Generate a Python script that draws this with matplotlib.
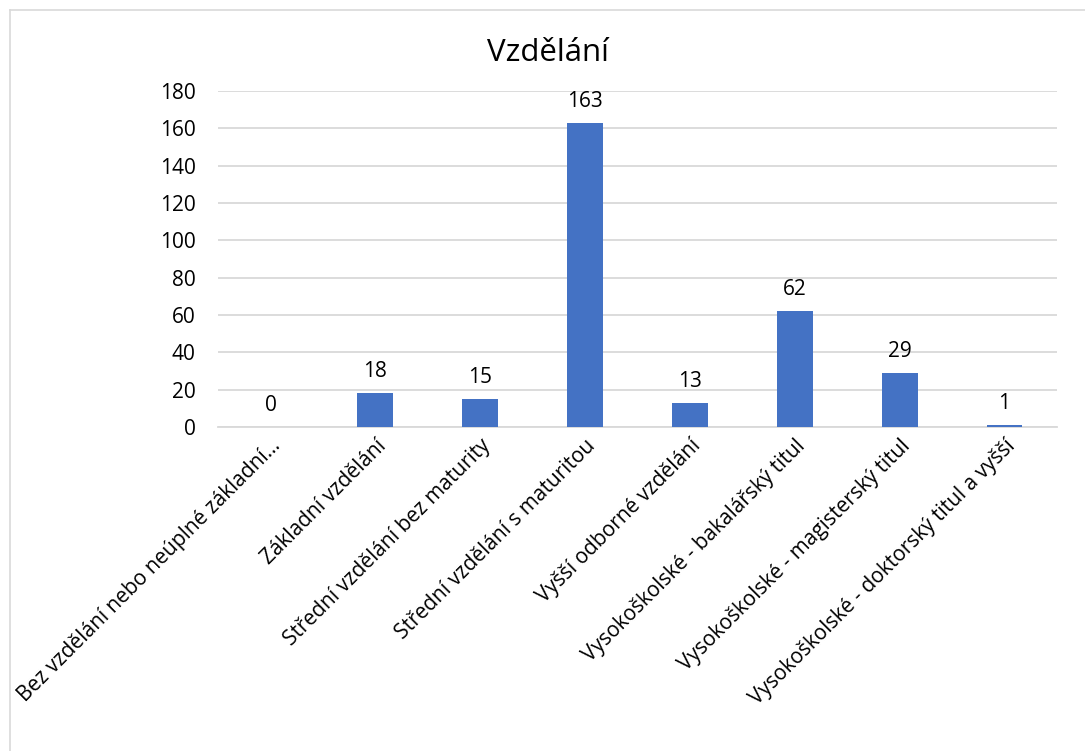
import matplotlib.pyplot as plt
from matplotlib.lines import Line2D

categories = [
    'Bez vzdělání nebo neúplné základní...',
    'Základní vzdělání',
    'Střední vzdělání bez maturity',
    'Střední vzdělání s maturitou',
    'Vyšší odborné vzdělání',
    'Vysokoškolské - bakalářský titul',
    'Vysokoškolské - magisterský titul',
    'Vysokoškolské - doktorský titul a vyšší',
]
counts = [0, 18, 15, 163, 13, 62, 29, 1]
y_ticks = list(range(0, 181, 20))

plt.rcParams['font.family'] = ['Open Sans', 'DejaVu Sans']

fig = plt.figure(figsize=(10.85, 7.51), dpi=100)
ax = fig.add_axes([218 / 1085, 1 - 427 / 751, (1057 - 218) / 1085, (427 - 91) / 751])

x = range(len(categories))
bars = ax.bar(x, counts, width=0.34, color='#4472C4', zorder=3)

for xi, v in zip(x, counts):
    ax.annotate(str(v), (xi, v), xytext=(0, 8), textcoords='offset points',
                ha='center', va='bottom', fontsize=15, color='#000000')

ax.set_xlim(-0.5, len(categories) - 0.5)
ax.set_ylim(0, 180)
ax.set_yticks(y_ticks)
ax.tick_params(axis='y', length=0, labelsize=15, pad=16)
ax.tick_params(axis='x', length=0, labelsize=15, pad=6)
ax.set_xticks(list(x))
ax.set_xticklabels(categories, rotation=45, ha='right', rotation_mode='anchor')
ax.grid(axis='y', color='#D9D9D9', linewidth=1.3, zorder=0)
for s in ['top', 'right', 'left']:
    ax.spines[s].set_visible(False)
ax.spines['bottom'].set_color('#D9D9D9')
ax.spines['bottom'].set_linewidth(1.3)

fig.text(548 / 1085, 1 - 53 / 751, 'Vzdělání', ha='center', va='center', fontsize=22.5)

# chart border (only top and left edges show)
fig.add_artist(Line2D([10 / 1085, 1], [1 - 9.5 / 751, 1 - 9.5 / 751], color='#D9D9D9', linewidth=1.2))
fig.add_artist(Line2D([10 / 1085, 10 / 1085], [0, 1 - 9.5 / 751], color='#D9D9D9', linewidth=1.2))

fig.savefig('out.png', dpi=100)
